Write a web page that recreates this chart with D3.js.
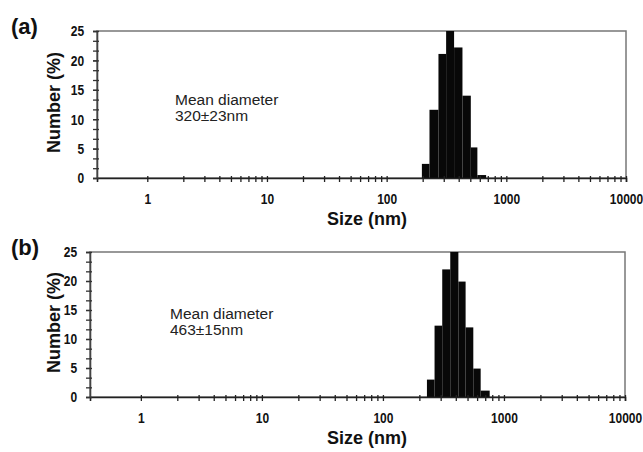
<!DOCTYPE html>
<html>
<head>
<meta charset="utf-8">
<script src="https://cdn.jsdelivr.net/npm/d3@7"></script>
<style>
  body { margin: 0; background: #fff; }
  svg { display: block; }
  .tick text { font-family: 'Liberation Sans', Arial, sans-serif; font-weight: bold; font-size: 15px; fill: #111; }
  .title { font-family: 'Liberation Sans', Arial, sans-serif; fill: #111; }
</style>
</head>
<body>
<svg id="chart" width="643" height="452"></svg>
<script>
// size axis ticks (nm)
const sizeMajor = [1, 10, 100, 1000, 10000];
const numberTicks = [0, 5, 10, 15, 20, 25];

// panel (a) histogram: bin edges (nm) and number (%)
const edgesA = [197, 228, 271, 314, 366, 430, 505, 573, 678];
const numberA = [2.4, 11.6, 21.1, 25, 22.2, 14, 5.2, 0.5];

// panel (b)
const edgesB = [231, 267, 309, 360, 420, 482, 558, 642, 762];
const numberB = [3.0, 12.3, 22, 25, 19.9, 12, 4.9, 1.1];

const panelNames = ['(a)', '(b)'];
const meanLines = [['Mean diameter', '320\u00b123nm'], ['Mean diameter', '463\u00b115nm']];

const panels = [
  { edges: edgesA, values: numberA, left: 97, right: 626, top: 31, bottom: 178, textAt: 12.4, textX: 175 },
  { edges: edgesB, values: numberB, left: 90, right: 625, top: 252, bottom: 397, textAt: 13.4, textX: 170 }
];

// minor ticks 1..9 in each decade
const sizeTicks = [];
for (let i = 0; i < sizeMajor.length - 1; i++) {
  for (let k = 1; k < 10; k++) sizeTicks.push(sizeMajor[i] * k);
}
sizeTicks.push(sizeMajor[sizeMajor.length - 1]);

const yMinor = d3.range(0, 25.01, 25 / 15);

const svg = d3.select('#chart');

panels.forEach((p, i) => {
  const x = d3.scaleLog().domain([0.38, 10000]).range([p.left, p.right]);
  const y = d3.scaleLinear().domain([0, 25]).range([p.bottom, p.top]);
  const g = svg.append('g');

  // frame
  g.append('rect')
    .attr('x', p.left).attr('y', p.top)
    .attr('width', p.right - p.left).attr('height', p.bottom - p.top)
    .attr('fill', 'none').attr('stroke', '#777').attr('stroke-width', 1.5);

  // bars
  const bins = p.values.map((v, j) => ({ x0: p.edges[j], x1: p.edges[j + 1], v: v }));
  g.append('g')
    .selectAll('rect')
    .data(bins)
    .enter().append('rect')
    .attr('x', d => x(d.x0))
    .attr('y', d => y(d.v))
    .attr('width', d => x(d.x1) - x(d.x0))
    .attr('height', d => y(0) - y(d.v))
    .attr('fill', '#080808');

  // x axis
  const xa = g.append('g')
    .attr('transform', `translate(0,${p.bottom})`)
    .call(d3.axisBottom(x)
      .tickValues(sizeTicks)
      .tickSize(4)
      .tickPadding(11)
      .tickFormat(d => sizeMajor.includes(d) ? d : ''));
  xa.select('.domain').attr('stroke', '#222').attr('stroke-width', 1.6);
  xa.selectAll('.tick line').attr('y1', -2).attr('stroke', '#222').attr('stroke-width', 1.3);
  xa.selectAll('.tick text').attr('transform', 'scale(0.8,1)');

  // y axis, minor ticks
  const ya = g.append('g')
    .attr('transform', `translate(${p.left},0)`)
    .call(d3.axisLeft(y)
      .tickValues(yMinor)
      .tickSize(4)
      .tickPadding(9)
      .tickFormat(() => ''));
  ya.select('.domain').attr('stroke', '#444').attr('stroke-width', 1.6);
  ya.selectAll('.tick line').attr('x1', 2).attr('stroke', '#333').attr('stroke-width', 1.3);

  const yl = g.append('g')
    .attr('transform', `translate(${p.left},0)`)
    .call(d3.axisLeft(y)
      .tickValues(numberTicks)
      .tickSize(4)
      .tickPadding(12));
  yl.select('.domain').remove();
  yl.selectAll('.tick line').attr('stroke', '#333').attr('stroke-width', 1.3);
  yl.selectAll('.tick text').attr('transform', 'scale(0.8,1)');

  // titles
  g.append('text')
    .attr('class', 'title')
    .attr('x', 11).attr('y', p.top + 3)
    .style('font-size', '22px').style('font-weight', 'bold')
    .text(panelNames[i]);

  g.append('text')
    .attr('class', 'title')
    .attr('transform', `translate(60,${(p.top + p.bottom) / 2 - 2}) rotate(-90)`)
    .style('text-anchor', 'middle')
    .style('font-size', '18px').style('font-weight', 'bold')
    .text('Number (%)');

  g.append('text')
    .attr('class', 'title')
    .attr('x', 367).attr('y', p.bottom + 47)
    .style('text-anchor', 'middle')
    .style('font-size', '18px').style('font-weight', 'bold')
    .text('Size (nm)');

  meanLines[i].forEach((t, k) => {
    g.append('text')
      .attr('class', 'title')
      .attr('x', p.textX)
      .attr('y', y(p.textAt) + k * 16)
      .style('font-size', '15.5px')
      .style('fill', '#222')
      .text(t);
  });
});
</script>
</body>
</html>
